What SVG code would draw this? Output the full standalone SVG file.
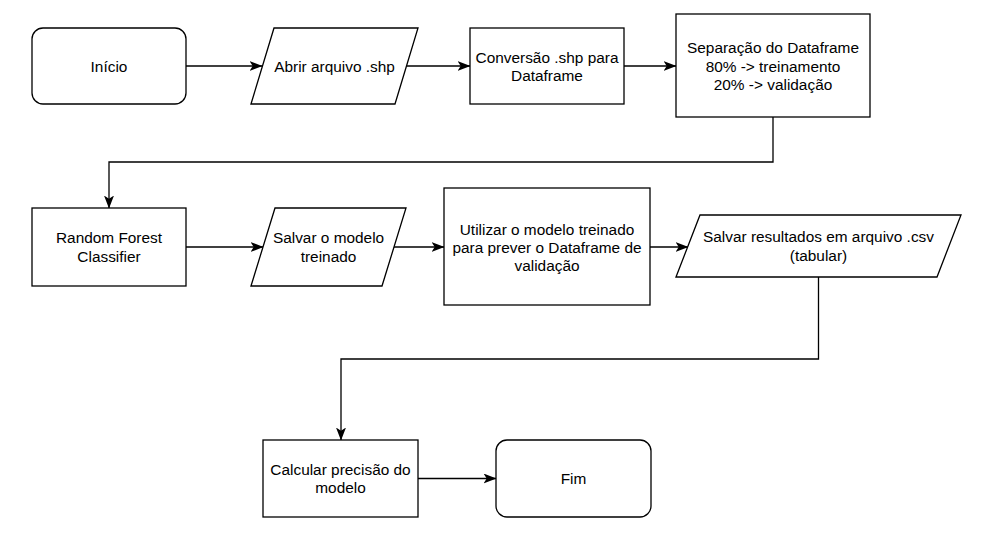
<svg xmlns="http://www.w3.org/2000/svg" width="986" height="541" viewBox="0 0 986 541">
<defs>
<style>
.s{fill:#fff;stroke:#000;stroke-width:1.3}
.t{font-family:"Liberation Sans",Arial,sans-serif;font-size:15.4px;fill:#000;text-anchor:middle;dominant-baseline:central}
.c{fill:none;stroke:#000;stroke-width:1.3;marker-end:url(#a)}
</style>
<marker id="a" markerUnits="userSpaceOnUse" viewBox="0 0 13 10" refX="12.5" refY="5" markerWidth="13" markerHeight="10" orient="auto">
<path d="M0,0 L13,5 L0,10 L3.2,5 Z" fill="#000"/>
</marker>
</defs>
<rect width="986" height="541" fill="#fff"/>
<g id="connectors">
<path class="c" d="M186,66 H262"/>
<path class="c" d="M406.5,66 H470"/>
<path class="c" d="M624,66 H676"/>
<path class="c" d="M773,117 V162 H109 V208"/>
<path class="c" d="M186,247 H263"/>
<path class="c" d="M393.5,247 H444"/>
<path class="c" d="M650,247 H688"/>
<path class="c" d="M818.5,277 V359 H341 V440"/>
<path class="c" d="M418,478.5 H496"/>
</g>
<g id="inicio">
<rect class="s" x="32" y="28" width="154" height="76" rx="11"/>
<text class="t" x="109" y="66">Início</text>
</g>
<g id="abrir">
<polygon class="s" points="251,104 274,28 418,28 395,104"/>
<text class="t" x="334.5" y="66">Abrir arquivo .shp</text>
</g>
<g id="conversao">
<rect class="s" x="470" y="28" width="154" height="76"/>
<text class="t" x="547" y="57">Conversão .shp para</text>
<text class="t" x="547" y="75.4">Dataframe</text>
</g>
<g id="separacao">
<rect class="s" x="676" y="14" width="194" height="103"/>
<text class="t" x="773" y="47.5">Separação do Dataframe</text>
<text class="t" x="773" y="66">80% -&gt; treinamento</text>
<text class="t" x="773" y="84.5">20% -&gt; validação</text>
</g>
<g id="random-forest">
<rect class="s" x="32" y="208" width="154" height="78"/>
<text class="t" x="109" y="237.5">Random Forest</text>
<text class="t" x="109" y="256.2">Classifier</text>
</g>
<g id="salvar-modelo">
<polygon class="s" points="251,286 275,208 406,208 382,286"/>
<text class="t" x="328.5" y="237.5">Salvar o modelo</text>
<text class="t" x="328.5" y="256.2">treinado</text>
</g>
<g id="utilizar">
<rect class="s" x="444" y="188" width="206" height="117"/>
<text class="t" x="547" y="229">Utilizar o modelo treinado</text>
<text class="t" x="547" y="247.4">para prever o Dataframe de</text>
<text class="t" x="547" y="265.8">validação</text>
</g>
<g id="salvar-resultados">
<polygon class="s" points="676,277 700,215 961,215 937,277"/>
<text class="t" x="818.5" y="236.8">Salvar resultados em arquivo .csv</text>
<text class="t" x="818.5" y="255.2">(tabular)</text>
</g>
<g id="calcular">
<rect class="s" x="263" y="440" width="155" height="77"/>
<text class="t" x="340.5" y="469.5">Calcular precisão do</text>
<text class="t" x="340.5" y="487.9">modelo</text>
</g>
<g id="fim">
<rect class="s" x="496" y="440" width="155" height="77" rx="11"/>
<text class="t" x="573.5" y="478.5">Fim</text>
</g>
</svg>
